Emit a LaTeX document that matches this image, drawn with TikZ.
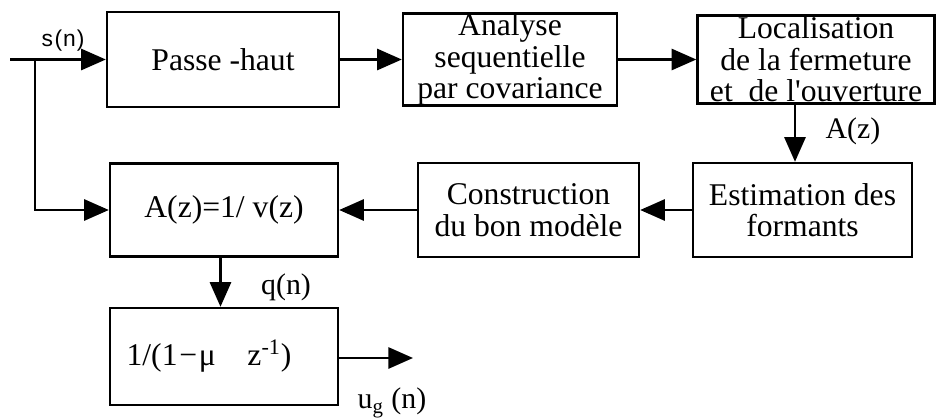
\documentclass[tikz,border=0pt]{standalone}
\usepackage{fontspec}
\setmainfont{Liberation Serif}
\newfontfamily\sigfont{Liberation Sans}
\usetikzlibrary{calc, positioning}
\usetikzlibrary{arrows.meta}

\tikzset{
  blk/.style={draw, line width=1.4pt, align=center, inner sep=0pt,
    font=\fontsize{18}{18}\selectfont},
  arr/.style={-{Triangle[length=14pt, width=12pt]}, line width=1.4pt},
  lbl/.style={inner sep=0pt, font=\fontsize{17}{17}\selectfont}
}

\begin{document}
\begin{tikzpicture}[x=0.02cm, y=-0.02cm]
\useasboundingbox (0,0) rectangle (938,419);

\node[blk, minimum width=4.64cm, minimum height=1.90cm] (hp) at (223,59.5) {Passe -haut};
\node[blk, minimum width=4.28cm, minimum height=1.76cm] (ana) at (510,59.5) {Analyse\\sequentielle\\par covariance};
\node[blk, minimum width=4.74cm, minimum height=1.76cm] (loc) at (816,59.5) {Localisation\\de la fermeture\\et\ \ de l\textquotesingle ouverture};
\node[blk, minimum width=4.38cm, minimum height=1.88cm] (est) at (802.5,210) {Estimation des\\formants};
\node[blk, minimum width=4.42cm, minimum height=1.88cm] (con) at (528.5,210) {Construction\\du bon modèle};
\node[blk, minimum width=4.56cm, minimum height=1.86cm] (av) at (224,210) {A(z)=1/ v(z)};
\node[blk, minimum width=4.56cm, minimum height=1.94cm] (mu) at (224,356.5) {1/(1\kern1pt−\kern1pt μ\quad z\textsuperscript{-1})\hspace*{0.6cm}};

\coordinate (in) at (10,59.5);
\coordinate (br) at (35,59.5);
\coordinate (out) at (413,358);
\coordinate (dn) at ($(loc.south)+(-21,0)$);

\draw[line width=1.4pt] (in) -- (br);
\draw[arr] (br) -- (hp.west);
\draw[arr] (br) |- (av.west);
\draw[arr] (hp.east) -- (ana.west);
\draw[arr] (ana.east) -- (loc.west);
\draw[arr] (dn) -- (dn |- est.north);
\draw[arr] (est.west) -- (con.east);
\draw[arr] (con.west) -- (av.east);
\draw[arr] ([xshift=-2pt]av.south) -- ([xshift=-2pt]mu.north);
\draw[arr] (mu.east |- out) -- (out);

\node[inner sep=0pt, font=\sigfont\fontsize{13}{14}\selectfont] (sn) at (63,41) {s\kern1pt(\kern0.5pt n\kern0.5pt)};
\node[lbl] (az) at (853,131) {A(z)};
\node[lbl] (qn) at (286,287) {q(n)};
\node[lbl] (ug) at (392,403) {u\textsubscript{g} (n)};
\end{tikzpicture}
\end{document}
